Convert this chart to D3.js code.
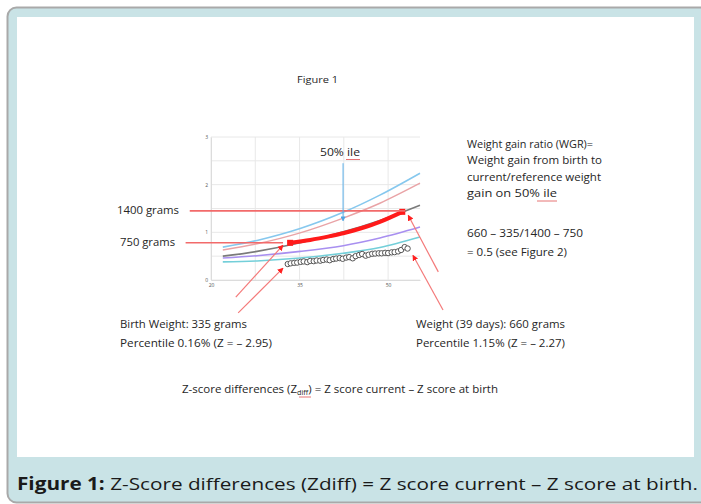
<!DOCTYPE html>
<html><head><meta charset="utf-8">
<script src="https://cdn.jsdelivr.net/npm/d3@7"></script>
<style>body{margin:0;background:#fff}svg{display:block}</style>
</head><body><svg id="c" width="701" height="504"></svg>
<script>
// ---- data ----
const xTickValues = [20, 35, 50];
const yTickValues = [0, 1, 2, 3];
const xGridValues = [20, 27.5, 35, 42.5, 50];
const yGridValues = [0, 0.5, 1, 1.5, 2, 2.5, 3];
const refAge = [22, 27.8, 35.1, 42.4, 48.6, 55.4];
const curveBlue   = [0.69, 0.83, 1.08, 1.42, 1.78, 2.24];
const curvePink   = [0.63, 0.76, 0.99, 1.30, 1.61, 2.03];
const curve50     = [0.50, 0.60, 0.78, 1.01, 1.25, 1.57];
const curvePurple = [0.46, 0.51, 0.60, 0.72, 0.88, 1.11];
const curveCyan   = [0.38, 0.40, 0.46, 0.56, 0.68, 0.90];
const gainAge = [33.4, 36.8, 40.2, 42.4, 45.3, 48.6, 52.4];
const gainWeight = [0.78, 0.84, 0.92, 0.98, 1.08, 1.22, 1.43];
const patientAge = [33.0, 33.5, 34.1, 34.6, 35.2, 35.7, 36.3, 36.8, 37.4, 37.9, 38.5, 39.0, 39.6, 40.1, 40.7, 41.2, 41.8, 42.3, 42.9, 43.4, 44.0, 44.5, 45.1, 45.6, 46.2, 46.7, 47.3, 47.8, 48.4, 48.9, 49.5, 50.0, 50.6, 51.1, 51.7, 52.2, 52.8, 53.3];
const patientGrams = [335, 350, 360, 365, 380, 390, 375, 400, 395, 410, 405, 420, 430, 415, 440, 450, 460, 445, 470, 480, 455, 500, 525, 545, 510, 530, 550, 555, 560, 560, 570, 565, 580, 585, 600, 630, 690, 660];
const levelLabels = ["1400 grams", "750 grams"];
const levelValues = [1.45, 0.78];
const pointerFrom = [[24.2, -0.36], [24.6, -0.69], [58.5, 0.17], [59.3, -0.63]];
const pointerTo   = [[32.2, 0.73], [32.2, 0.25], [53.4, 1.36], [54.2, 0.52]];

const svg = d3.select("#c");
const FONT = "'Open Sans', 'Noto Sans', sans-serif";

// ---- frame ----
svg.append("rect").attr("x", 7.5).attr("y", 7.5).attr("width", 710).attr("height", 495)
  .attr("rx", 9).attr("fill", "#c9e3e6").attr("stroke", "#a9a9a9").attr("stroke-width", 2);
svg.append("rect").attr("x", 17).attr("y", 17).attr("width", 677).attr("height", 440).attr("fill", "#ffffff");

// ---- scales ----
const x = d3.scaleLinear().domain([20, 55.4]).range([211, 420]);
const y = d3.scaleLinear().domain([0, 3]).range([280, 137]);

const g = svg.append("g");
// grid
g.selectAll(".hg").data(yGridValues).join("line")
  .attr("x1", x(20)).attr("x2", x(55.4)).attr("y1", d => y(d)).attr("y2", d => y(d))
  .attr("stroke", "#e8e8e8").attr("stroke-width", 1);
g.selectAll(".vg").data(xGridValues).join("line")
  .attr("x1", d => x(d)).attr("x2", d => x(d)).attr("y1", y(0)).attr("y2", y(3))
  .attr("stroke", "#e8e8e8").attr("stroke-width", 1);
// axes
const xAxis = d3.axisBottom(x).tickValues(xTickValues).tickFormat(d3.format("d")).tickSize(0).tickPadding(3);
const yAxis = d3.axisLeft(y).tickValues(yTickValues).tickFormat(d3.format("d")).tickSize(0).tickPadding(3);
const gx = g.append("g").attr("transform", `translate(0,${y(0)})`).call(xAxis);
const gy = g.append("g").attr("transform", `translate(${x(20)},0)`).call(yAxis);
[gx, gy].forEach(a => {
  a.select(".domain").attr("stroke", "#dcdcdc");
  a.selectAll("text").attr("font-size", 5).attr("fill", "#555").attr("font-family", FONT);
});

// curves
const line = d3.line().x(d => x(d[0])).y(d => y(d[1])).curve(d3.curveCatmullRom.alpha(0.5));
const curves = [
  [curveCyan, "#73cfd9", 1.6],
  [curvePurple, "#a88ff0", 1.6],
  [curve50, "#7a7a7a", 1.6],
  [curvePink, "#e9a3a6", 1.4],
  [curveBlue, "#86c8ee", 1.6]
];
curves.forEach(([vals, col, w]) => {
  g.append("path").datum(refAge.map((a, i) => [a, vals[i]]))
    .attr("d", line).attr("fill", "none").attr("stroke", col).attr("stroke-width", w);
});

// patient weights (open circles)
g.selectAll(".pt").data(patientAge.map((a, i) => [a, patientGrams[i] / 1000])).join("circle")
  .attr("cx", d => x(d[0])).attr("cy", d => y(d[1])).attr("r", 2.7)
  .attr("fill", "#fff").attr("stroke", "#555").attr("stroke-width", 1);

// thick red reference-gain line
g.append("path").datum(gainAge.map((a, i) => [a, gainWeight[i]]))
  .attr("d", line).attr("fill", "none").attr("stroke", "#ff1a1a").attr("stroke-width", 4).attr("stroke-linecap", "round");
[[gainAge[0], gainWeight[0]], [gainAge[gainAge.length - 1], gainWeight[gainWeight.length - 1]]].forEach(p => {
  g.append("rect").attr("x", x(p[0]) - 3).attr("y", y(p[1]) - 3).attr("width", 6).attr("height", 6).attr("fill", "#ff1a1a");
});

// level lines
const levelStart = [16.4, 15.7];
const levelEnd = [52.9, 32.2];
levelValues.forEach((v, i) => {
  g.append("line").attr("x1", x(levelStart[i])).attr("x2", x(levelEnd[i]))
    .attr("y1", y(v)).attr("y2", y(v)).attr("stroke", "#f26a6a").attr("stroke-width", 1.6);
});

// pointers
const defs = svg.append("defs");
defs.append("marker").attr("id", "ah").attr("viewBox", "0 0 10 10").attr("refX", 9).attr("refY", 5)
  .attr("markerWidth", 5).attr("markerHeight", 5).attr("orient", "auto")
  .append("path").attr("d", "M0,0L10,5L0,10z").attr("fill", "#ff2020");
defs.append("marker").attr("id", "ahb").attr("viewBox", "0 0 10 10").attr("refX", 9).attr("refY", 5)
  .attr("markerWidth", 5).attr("markerHeight", 5).attr("orient", "auto")
  .append("path").attr("d", "M0,0L10,5L0,10z").attr("fill", "#4ea6e6");
pointerFrom.forEach((f, i) => {
  const t = pointerTo[i];
  g.append("line").attr("x1", x(f[0])).attr("y1", y(f[1])).attr("x2", x(t[0])).attr("y2", y(t[1]))
    .attr("stroke", "#f47a7a").attr("stroke-width", 1.2).attr("marker-end", "url(#ah)");
});
// blue 50% pointer
g.append("line").attr("x1", x(42.37)).attr("x2", x(42.37)).attr("y1", y(2.45)).attr("y2", y(1.24))
  .attr("stroke", "#5aaee8").attr("stroke-width", 1).attr("marker-end", "url(#ahb)");

// ---- texts ----
function txt(s, xx, yy, len, size, opts = {}) {
  const t = svg.append("text").attr("x", xx).attr("y", yy).attr("font-family", FONT)
    .attr("font-size", size).attr("fill", opts.fill || "#262626").text(s);
  if (len) t.attr("textLength", len).attr("lengthAdjust", "spacingAndGlyphs");
  return t;
}
txt("Figure 1", 297, 83, 41, 9);
levelLabels.forEach((l, i) => txt(l, [117, 120][i], [214, 246][i], [62, 55][i], 11));
txt("50% ile", 320, 156, 40, 11);
svg.append("line").attr("x1", 346).attr("x2", 360).attr("y1", 159.5).attr("y2", 159.5).attr("stroke", "#e05050").attr("stroke-width", 0.8);

const wgr = ["Weight gain ratio (WGR)=", "Weight gain from birth to", "current/reference weight", "gain on 50% ile", "660 – 335/1400 – 750", "= 0.5 (see Figure 2)"];
const wgrY = [148, 164, 181, 197, 237, 256];
const wgrLen = [126, 135, 134, 90, 116, 100];
wgr.forEach((s, i) => txt(s, 467, wgrY[i], wgrLen[i], 11));
svg.append("line").attr("x1", 537).attr("x2", 557).attr("y1", 201).attr("y2", 201).attr("stroke", "#e05050").attr("stroke-width", 0.8);

txt("Birth Weight: 335 grams", 120, 328, 127, 11);
txt("Percentile 0.16% (Z = – 2.95)", 120, 347, 152, 11);
txt("Weight (39 days): 660 grams", 416, 328, 149, 11);
txt("Percentile 1.15% (Z = – 2.27)", 416, 347, 149, 11);

const zt = svg.append("text").attr("x", 182).attr("y", 393).attr("font-family", FONT).attr("font-size", 11).attr("fill", "#262626")
  .attr("textLength", 316).attr("lengthAdjust", "spacingAndGlyphs");
zt.append("tspan").text("Z-score differences (Z");
zt.append("tspan").attr("font-size", 7).attr("dy", 2).text("diff");
zt.append("tspan").attr("dy", -2).text(") = Z score current –  Z score at birth");
svg.append("line").attr("x1", 299).attr("x2", 311).attr("y1", 397).attr("y2", 397).attr("stroke", "#e05050").attr("stroke-width", 0.8);

// caption
const cap = svg.append("text").attr("x", 17).attr("y", 490).attr("font-family", FONT).attr("font-size", 17).attr("fill", "#1a1a1a")
  .attr("textLength", 681).attr("lengthAdjust", "spacingAndGlyphs");
cap.append("tspan").attr("font-weight", "bold").text("Figure 1:");
cap.append("tspan").text(" Z-Score differences (Zdiff) = Z score current – Z score at birth.");
</script>
</body></html>
